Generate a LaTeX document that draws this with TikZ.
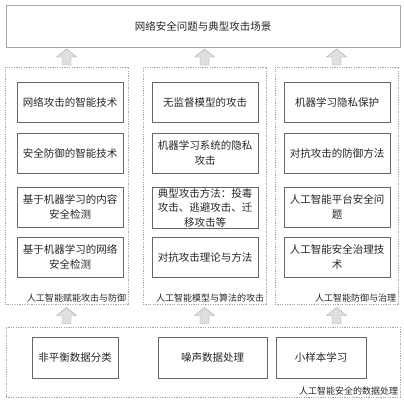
\documentclass[tikz,border=0pt]{standalone}
\usepackage{fontspec}
\setmainfont{Noto Sans CJK SC}
\usetikzlibrary{calc,positioning}

\tikzset{
  topbox/.style={draw=gray!70,text=black!85,minimum width=394pt,minimum height=42pt},
  panel/.style={draw=gray!70,dash pattern=on 1.2pt off 1.2pt,minimum height=237pt},
  cell/.style={draw=black!60,text=black!85,align=center,inner sep=0pt,
    minimum width=106pt,minimum height=40pt,font=\fontsize{10.5}{14.5}\selectfont},
  paneltext/.style={text=black!85,anchor=south east,inner sep=2pt,font=\fontsize{9}{11}\selectfont},
  uparrow/.pic={\draw[draw=gray!70,fill=gray!25] (-4.5,8) -- (-4.5,0) -- (-10,0) -- (0,-8)
    -- (10,0) -- (4.5,0) -- (4.5,8) -- cycle;}
}

\begin{document}
\begin{tikzpicture}[x=1pt,y=-1pt]
\useasboundingbox (0,0) rectangle (404,400);
\node[topbox,font=\fontsize{10.5}{13}\selectfont] (scene) at (203,26) {网络安全问题与典型攻击场景};

% three panels
\node[panel,minimum width=123pt] (empower) at (66.5,185.5) {};
\node[panel,minimum width=123pt] (attack) at (204.5,185.5) {};
\node[panel,minimum width=123pt] (govern) at (336.5,185.5) {};
\node[paneltext] (empowerlbl) at (empower.south east) {人工智能赋能攻击与防御};
\node[paneltext] (attacklbl) at (attack.south east) {人工智能模型与算法的攻击};
\node[paneltext] (governlbl) at (govern.south east) {人工智能防御与治理};

% left column
\node[cell] (ai1) at (70,102) {网络攻击的智能技术};
\node[cell] (ai2) at (70,153) {安全防御的智能技术};
\node[cell] (ai3) at (70,207) {基于机器学习的内容\\安全检测};
\node[cell] (ai4) at (70,257) {基于机器学习的网络\\安全检测};

% middle column
\node[cell] (ma1) at (205,102) {无监督模型的攻击};
\node[cell] (ma2) at (205,153) {机器学习系统的隐私\\攻击};
\node[cell,minimum height=41pt] (ma3) at (205,207.5) {典型攻击方法：投毒\\攻击、逃避攻击、迁\\移攻击等};
\node[cell] (ma4) at (205,257) {对抗攻击理论与方法};

% right column
\node[cell] (dg1) at (337,102) {机器学习隐私保护};
\node[cell] (dg2) at (337,153) {对抗攻击的防御方法};
\node[cell] (dg3) at (337,207) {人工智能平台安全问\\题};
\node[cell] (dg4) at (337,257) {人工智能安全治理技\\术};

% data processing
\node[panel,minimum width=394pt,minimum height=70pt] (data) at (203,362) {};
\node[paneltext] (datalbl) at (data.south east) {人工智能安全的数据处理};
\node[cell,minimum width=86pt,minimum height=41pt] (imb) at (75,357.5) {非平衡数据分类};
\node[cell,minimum width=109pt,minimum height=41pt] (noise) at (212.5,357.5) {噪声数据处理};
\node[cell,minimum width=90pt,minimum height=41pt] (few) at (321,357.5) {小样本学习};

% block arrows
\foreach \p in {empower,attack,govern}{
  \pic at ($(\p.north)!.5!(\p.north |- scene.south)$) {uparrow};
  \pic at ($(\p.south)!.5!(\p.south |- data.north)$) {uparrow};
}
\end{tikzpicture}
\end{document}
